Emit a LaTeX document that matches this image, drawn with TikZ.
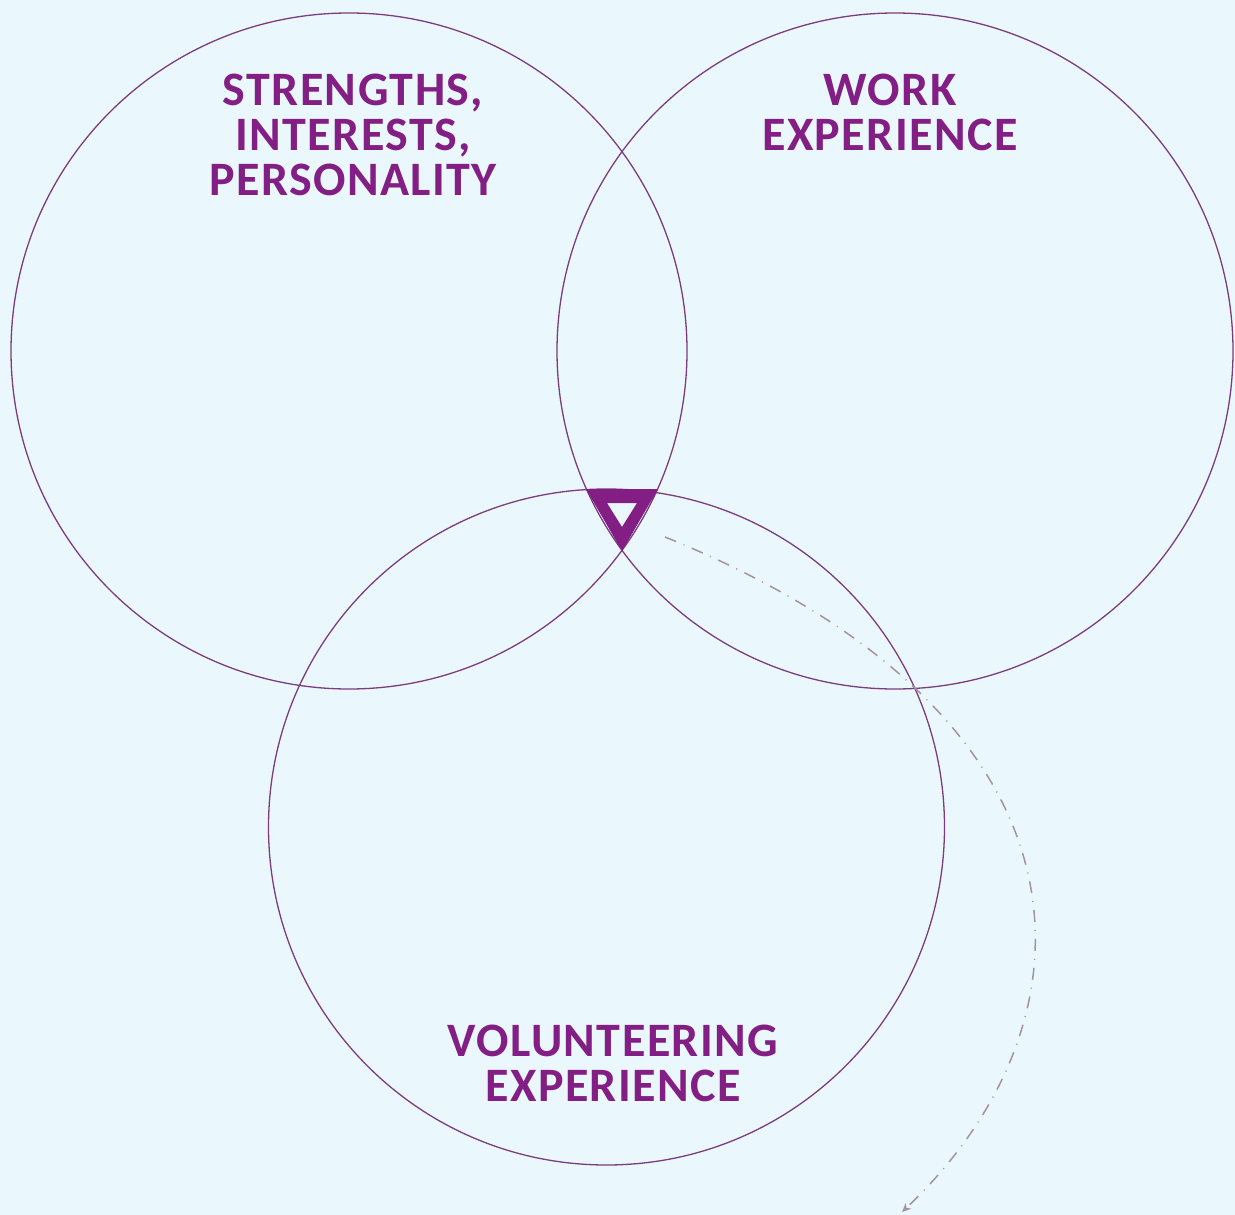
\documentclass[tikz,border=0pt]{standalone}
\usepackage{fontspec}
\usetikzlibrary{arrows.meta}
\newfontfamily\lblfont{Carlito}[LetterSpace=3]
\definecolor{bgblue}{RGB}{234,248,254}
\definecolor{plum}{RGB}{130,30,132}
\definecolor{ringline}{RGB}{125,60,125}
\definecolor{flowgray}{RGB}{165,145,165}
\tikzset{
  ring/.style={circle, draw=ringline, line width=1.3pt, minimum size=676pt, inner sep=0pt},
  areatitle/.style={anchor=north, inner sep=0pt, align=center, text=plum,
    font=\lblfont\bfseries\fontsize{48}{45}\selectfont},
  flow/.style={draw=flowgray, line width=1.5pt, dash pattern=on 12pt off 8pt on 1pt off 8pt,
    -{Stealth[length=9pt,width=8pt]}},
}
\begin{document}
\begin{tikzpicture}[x=1pt,y=-1pt]
  % canvas
  \fill[bgblue] (0,0) rectangle (1235,1215);
  \useasboundingbox (0,0) rectangle (1235,1215);

  % the three overlapping areas
  \node[ring] (self)  at (349,351) {};
  \node[ring] (work)  at (895,351) {};
  \node[ring] (volun) at (606.5,827) {};

  % titles
  \node[areatitle] (selft) at (353,74) {STRENGTHS,\\INTERESTS,\\PERSONALITY};
  \node[areatitle] (workt) at (890,74) {WORK\\EXPERIENCE};
  \node[areatitle] (volt)  at (613,1025) {VOLUNTEERING\\EXPERIENCE};

  % marker where all three meet
  \fill[plum, even odd rule] (586,489) -- (658,489) -- (622,551) -- cycle
                             (607,503) -- (637,503) -- (622,527) -- cycle;
  \coordinate (flowstart) at (665,537);
  \coordinate (flowend) at (902,1212);

  % dashed path leading out of the overlap
  \draw[flow] (flowstart) .. controls (1110,717) and (1105,1020) .. (flowend);
\end{tikzpicture}
\end{document}
